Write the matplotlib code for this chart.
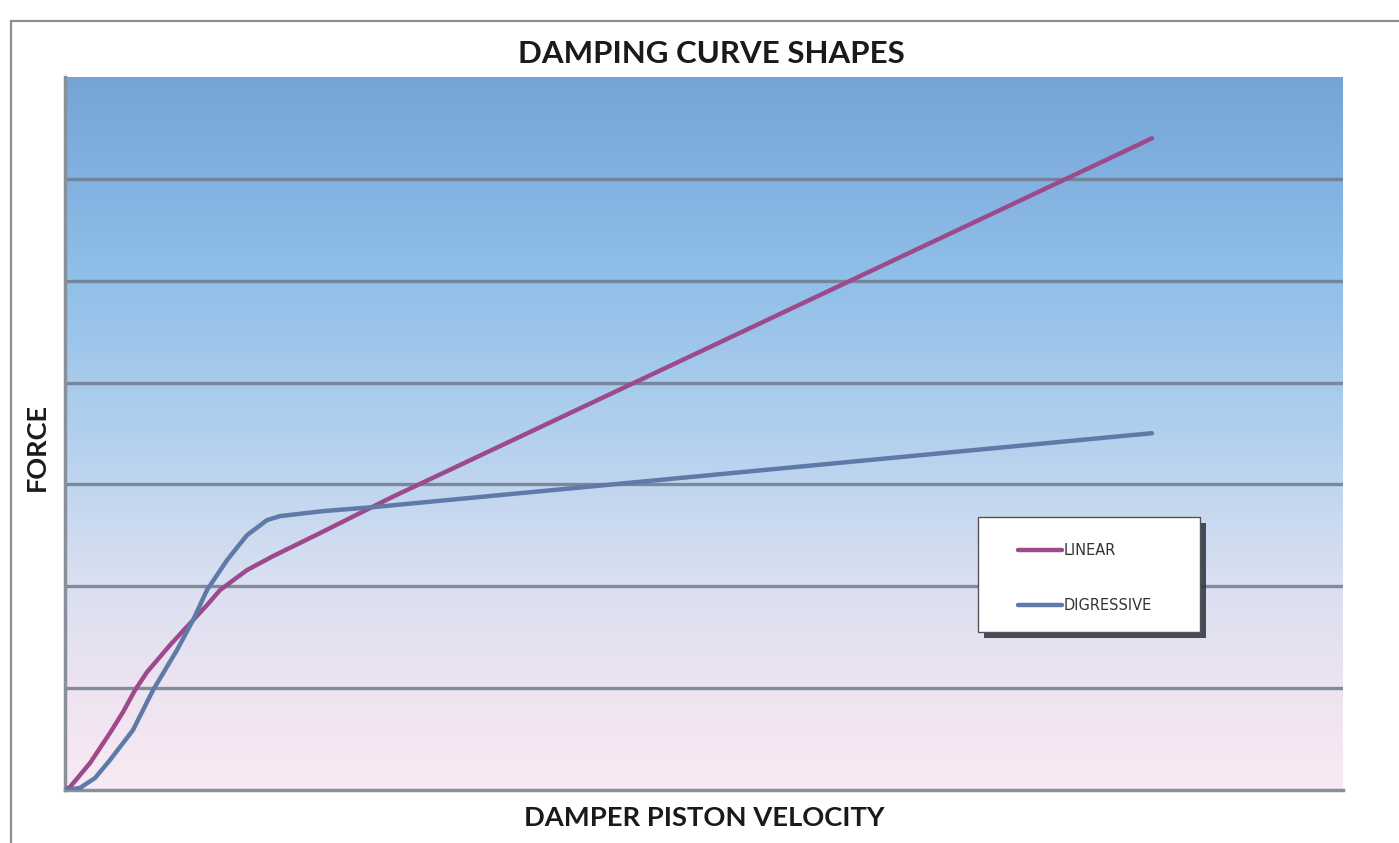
import numpy as np
import matplotlib
matplotlib.use("Agg")
import matplotlib.pyplot as plt
from matplotlib.colors import LinearSegmentedColormap
from matplotlib.patches import Rectangle

# ---- data (x = % of axis width, y = gridline units) ----
linear_x = [0.0, 0.39, 1.96, 3.52, 4.54, 5.48, 6.42, 8.22, 10.02, 11.11, 12.13,
            14.24, 16.28, 19.95, 25.43, 85.05]
linear_y = [0.0, 0.029, 0.265, 0.560, 0.765, 0.981, 1.158, 1.423, 1.668, 1.815,
            1.963, 2.159, 2.296, 2.522, 2.866, 6.398]
digr_x = [0.0, 1.17, 2.35, 3.52, 5.32, 6.89, 8.76, 10.02, 11.11, 12.68, 14.24,
          15.81, 16.82, 20.19, 24.10, 85.05]
digr_y = [0.0, 0.02, 0.118, 0.294, 0.589, 0.981, 1.374, 1.668, 1.963, 2.257,
          2.502, 2.650, 2.689, 2.738, 2.777, 3.503]
series_names = ["LINEAR", "DIGRESSIVE"]
grid_levels = [1, 2, 3, 4, 5, 6]

W, H = 1399, 843
fig = plt.figure(figsize=(W / 100, H / 100), dpi=100)
fig.patch.set_facecolor("white")

# outer chart frame
fig.patches.append(Rectangle((11 / W, -0.05), 1.2, (843 - 21) / H + 0.05,
                             transform=fig.transFigure, fill=False,
                             edgecolor="#8c8c8c", lw=1.6, zorder=0))

ax = fig.add_axes([65 / W, (H - 790) / H, (1343 - 65) / W, (790 - 77) / H])
ax.set_xlim(0, 100)
ax.set_ylim(0, 7)

# background gradient
stops = [(0.0, "#f8eaf4"), (0.12, "#f0e4f1"), (0.3, "#d8dff0"),
         (0.5, "#b2d0ee"), (0.72, "#90bfe8"), (0.9, "#7fadde"), (1.0, "#77a4d6")]
cmap = LinearSegmentedColormap.from_list("bg", stops)
grad = np.linspace(0, 1, 256).reshape(-1, 1)
ax.imshow(grad, cmap=cmap, origin="lower", aspect="auto",
          extent=[0, 100, 0, 7], zorder=0)

ax.set_yticks(grid_levels)
ax.set_xticks([])
ax.tick_params(left=False, labelleft=False, bottom=False, labelbottom=False)
ax.grid(axis="y", color="#6f7c8e", lw=2.4, alpha=0.85, zorder=1)
for s in ["top", "right"]:
    ax.spines[s].set_visible(False)
for s in ["left", "bottom"]:
    ax.spines[s].set_color("#8a909a")
    ax.spines[s].set_linewidth(2.5)

l1, = ax.plot(linear_x, linear_y, color="#9c4a8c", lw=3.2, label=series_names[0],
              zorder=3, solid_capstyle="round", solid_joinstyle="round")
l2, = ax.plot(digr_x, digr_y, color="#5f7aa8", lw=3.2, label=series_names[1],
              zorder=3, solid_capstyle="round", solid_joinstyle="round")

# legend box with drop shadow
bx0, by0, bx1, by1 = 978, 517, 1200, 632
fig.patches.append(Rectangle(((bx0 + 6) / W, 1 - (by1 + 6) / H),
                             (bx1 - bx0) / W, (by1 - by0) / H,
                             transform=fig.transFigure, facecolor="#2b3140",
                             alpha=0.85, edgecolor="none", zorder=3))
fig.patches.append(Rectangle((bx0 / W, 1 - by1 / H),
                             (bx1 - bx0) / W, (by1 - by0) / H,
                             transform=fig.transFigure, facecolor="white",
                             edgecolor="#555555", lw=1.0, zorder=3.5))

leg = fig.legend(handles=[l1, l2], loc="upper left",
                 bbox_to_anchor=(1018 / W, 1 - 543 / H),
                 bbox_transform=fig.transFigure, frameon=False,
                 handlelength=3.0, handletextpad=0.1,
                 labelspacing=2.74, borderpad=0, borderaxespad=0,
                 prop={"family": "DejaVu Sans", "size": 10.5})
leg.set_zorder(5)
for t in leg.get_texts():
    t.set_color("#333333")

fig.text(711 / W, 1 - 54 / H, "DAMPING CURVE SHAPES", ha="center", va="center",
         fontsize=22.5, fontweight="bold", family="Lato", color="#1a1a1a")
fig.text(704 / W, 1 - 818 / H, "DAMPER PISTON VELOCITY", ha="center", va="center",
         fontsize=19.7, fontweight="bold", family="Lato", color="#1a1a1a")
fig.text(37 / W, 1 - 447 / H, "FORCE", ha="center", va="center", rotation=90,
         fontsize=19.5, fontweight="bold", family="Lato", color="#1a1a1a")

fig.savefig("out.png", dpi=100)
